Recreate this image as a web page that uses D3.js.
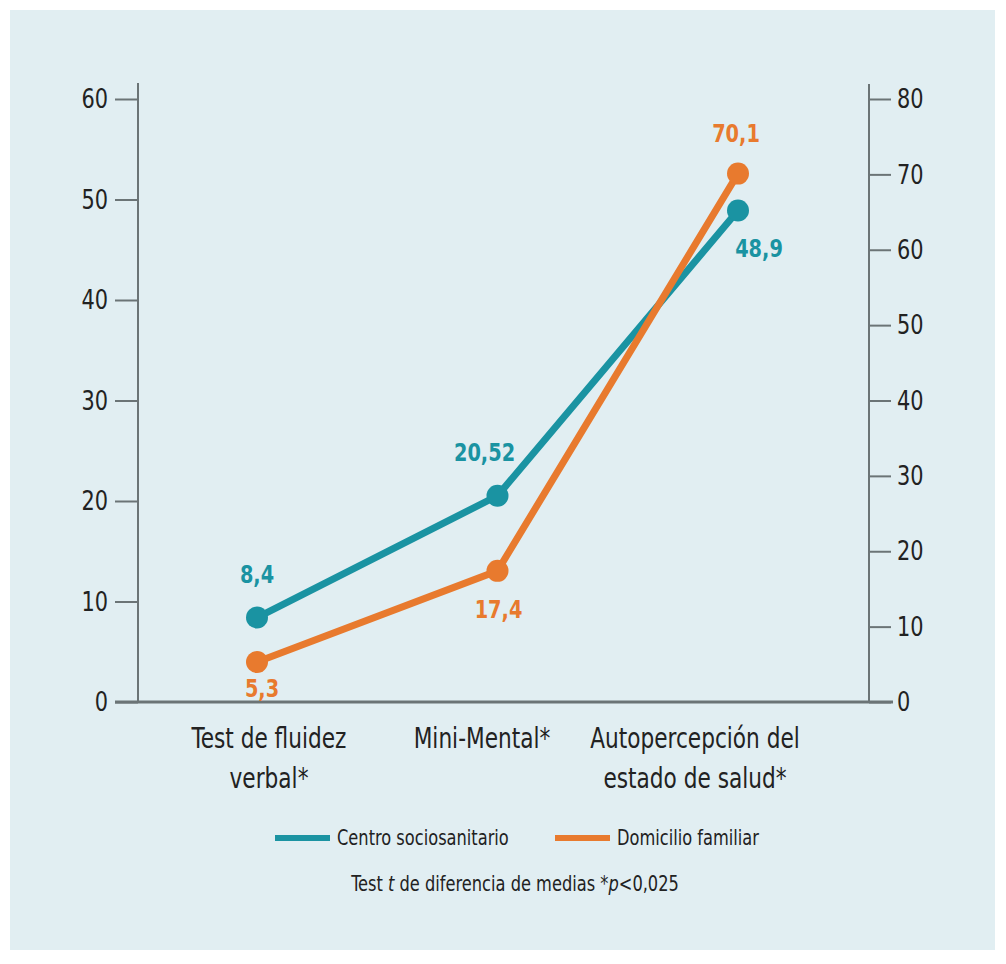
<!DOCTYPE html>
<html><head><meta charset="utf-8">
<script src="https://cdn.jsdelivr.net/npm/d3@7/dist/d3.min.js"></script>
<style>
body{margin:0;background:#fff;}
text{font-family:"DejaVu Sans Condensed","Liberation Sans Narrow","Roboto",sans-serif;}
</style></head><body>
<svg id="c" width="1006" height="964"></svg>
<script>
const categories = [["Test de fluidez","verbal*"],["Mini-Mental*"],["Autopercepción del","estado de salud*"]];
const centro = [8.4, 20.52, 48.9];      // left axis
const domicilio = [5.3, 17.4, 70.1];    // right axis
const centroLabels = ["8,4","20,52","48,9"];
const domicilioLabels = ["5,3","17,4","70,1"];
const leftTicks = [0,10,20,30,40,50,60];
const rightTicks = [0,10,20,30,40,50,60,70,80];
const seriesNames = ["Centro sociosanitario","Domicilio familiar"];

const teal = "#1a93a2", orange = "#e87a2e", axisCol = "#6b7476", txt = "#222";
const SX = 0.86;
const svg = d3.select("#c");
svg.append("rect").attr("x",10).attr("y",10).attr("width",985).attr("height",940).attr("fill","#e1eef2");

function label(x0,y0,str,size,fill,anchor){
  const g = svg.append("g").attr("transform",`translate(${x0},${y0}) scale(${SX},1)`);
  return g.append("text").attr("text-anchor",anchor||"middle").attr("font-size",size).attr("fill",fill).text(str);
}

const x = d3.scalePoint().domain(d3.range(3)).range([257,738]);
const xl = d3.scalePoint().domain(d3.range(3)).range([269,695]);
const yL = d3.scaleLinear().domain([0,60]).range([702,99]);
const yR = d3.scaleLinear().domain([0,80]).range([702,99]);

// axes
const gL = svg.append("g").attr("transform","translate(138,0)")
  .call(d3.axisLeft(yL).tickValues(leftTicks).tickSize(23).tickPadding(7));
const gR = svg.append("g").attr("transform","translate(869,0)")
  .call(d3.axisRight(yR).tickValues(rightTicks).tickSize(22).tickPadding(7));
[gL,gR].forEach(g=>{
  g.select(".domain").remove();
  g.selectAll("line").attr("stroke",axisCol).attr("stroke-width",2);
  g.selectAll("text").attr("font-size",27).attr("fill",txt).attr("font-family",null);
});
gL.selectAll(".tick text").attr("transform",`scale(${SX},1)`).attr("x",-30/SX);
gR.selectAll(".tick text").attr("transform",`scale(${SX},1)`).attr("x",28/SX);
svg.append("line").attr("x1",138).attr("x2",138).attr("y1",83).attr("y2",702).attr("stroke",axisCol).attr("stroke-width",2);
svg.append("line").attr("x1",869).attr("x2",869).attr("y1",84).attr("y2",702).attr("stroke",axisCol).attr("stroke-width",2);
svg.append("line").attr("x1",115).attr("x2",893).attr("y1",702).attr("y2",702).attr("stroke",axisCol).attr("stroke-width",3);

// category labels
categories.forEach((lines,i)=>{
  lines.forEach((l,j)=>label(xl(i),748+j*40,l,28,txt));
});

// series
function drawSeries(vals,scale,col){
  const line = d3.line().x((d,i)=>x(i)).y(d=>scale(d));
  svg.append("path").datum(vals).attr("d",line).attr("fill","none").attr("stroke",col).attr("stroke-width",7);
  svg.selectAll(null).data(vals).enter().append("circle")
    .attr("cx",(d,i)=>x(i)).attr("cy",d=>scale(d)).attr("r",11).attr("fill",col);
}
drawSeries(centro,yL,teal);
drawSeries(domicilio,yR,orange);

// data labels
const cOff = [[0,-44],[-13,-44],[21,37]];
const dOff = [[5,26],[1,38],[-2,-41]];
centro.forEach((v,i)=>label(x(i)+cOff[i][0],yL(v)+cOff[i][1]+9,centroLabels[i],25,teal).attr("font-weight","bold"));
domicilio.forEach((v,i)=>label(x(i)+dOff[i][0],yR(v)+dOff[i][1]+9,domicilioLabels[i],25,orange).attr("font-weight","bold"));

// legend
const leg = [{x:275,col:teal},{x:555,col:orange}];
leg.forEach((l,i)=>{
  svg.append("line").attr("x1",l.x).attr("x2",l.x+55).attr("y1",838).attr("y2",838).attr("stroke",l.col).attr("stroke-width",6);
  label(l.x+62,845,seriesNames[i],21,txt,"start");
});
const note = label(515,891,"",21,txt);
note.append("tspan").text("Test ");
note.append("tspan").attr("font-style","italic").text("t");
note.append("tspan").text(" de diferencia de medias ");
note.append("tspan").text("*");
note.append("tspan").attr("font-style","italic").text("p");
note.append("tspan").text("<0,025");
</script>
</body></html>
